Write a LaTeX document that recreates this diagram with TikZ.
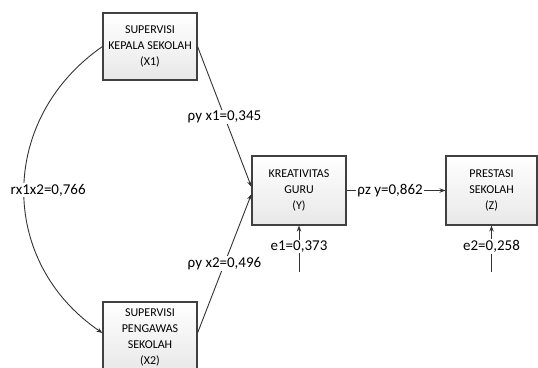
\documentclass[tikz,border=0pt]{standalone}
\usepackage{fontspec}
\setmainfont{Carlito}
\usetikzlibrary{arrows.meta}
\definecolor{edgec}{HTML}{333333}
\definecolor{boxline}{HTML}{404040}
\tikzset{
  varbox/.style={draw=boxline, line width=1.1pt, top color=white, bottom color=black!9,
    minimum width=94pt, align=center, font=\fontsize{12}{16}\selectfont, inner sep=0pt},
  conn/.style={draw=edgec, line width=0.9pt, -{Stealth[length=6pt,width=4.5pt]}},
  lab/.style={fill=white, inner sep=1pt, font=\fontsize{15}{17}\selectfont}
}
\begin{document}
\begin{tikzpicture}[x=1pt,y=-1pt]
\useasboundingbox (0,0) rectangle (538,367);
\clip (0,0) rectangle (538,367);
\node[varbox, minimum height=70pt] (x2) at (150,337) {SUPERVISI\\PENGAWAS\\SEKOLAH\\(X2)};
\node[varbox, minimum height=67pt] (x1) at (150,46.5) {SUPERVISI\\KEPALA SEKOLAH\\(X1)};
\node[varbox, minimum height=69pt] (y) at (299,190.5) {KREATIVITAS\\GURU\\(Y)};
\node[varbox, minimum width=91pt, minimum height=69pt] (z) at (491.5,190.5) {PRESTASI\\SEKOLAH\\(Z)};
\coordinate (e1s) at (299,272);
\coordinate (e2s) at (491.5,272);
\draw[conn] (x1.east) -- node[lab, pos=0.5] {ρy x1=0,345} ([yshift=3.5pt]y.west);
\draw[conn] ([yshift=4pt]x2.east) -- node[lab, pos=0.5] {ρy x2=0,496} ([yshift=-3.5pt]y.west);
\draw[conn] (x1.west) .. controls (-2,119) and (-2,262) .. node[lab, pos=0.5, xshift=24pt] {rx1x2=0,766} ([yshift=4pt]x2.west);
\draw[conn] (y.east) -- node[lab, pos=0.44] {ρz y=0,862} (z.west);
\draw[conn] (e1s) -- node[lab, pos=0.55] {e1=0,373} (y.south);
\draw[conn] (e2s) -- node[lab, pos=0.55] {e2=0,258} (z.south);
\end{tikzpicture}
\end{document}
